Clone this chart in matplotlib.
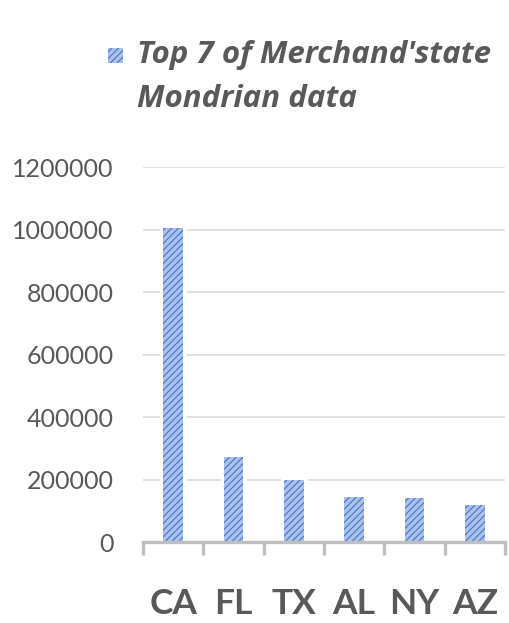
import matplotlib.pyplot as plt
import matplotlib as mpl
from matplotlib.patches import Rectangle
from matplotlib.ticker import FixedLocator

# top merchant states by Mondrian data
states = ['CA', 'FL', 'TX', 'AL', 'NY', 'AZ']
counts = [1005000, 272000, 198000, 145000, 140000, 118000]
yticks = [0, 200000, 400000, 600000, 800000, 1000000, 1200000]
series_lines = ["Top 7 of Merchand'state", "Mondrian data"]

grey_txt = '#595959'
fill = '#a9c2ec'
hatch_col = '#4a72c8'

mpl.rcParams['hatch.linewidth'] = 0.8

fig = plt.figure(figsize=(5.10, 6.23), dpi=100)
ax = fig.add_axes([0.2804, 0.130, 0.7098, 0.6019])

x = range(len(states))
# white halo so gridlines stop short of the bars
ax.bar(x, counts, width=0.33, color='white', edgecolor='white', linewidth=5, zorder=2)
bars = ax.bar(x, counts, width=0.33, color=fill, edgecolor=hatch_col, linewidth=0,
              hatch='/////', zorder=3)

ax.set_xlim(-0.5, len(states) - 0.5)
ax.set_ylim(0, 1200000)
ax.set_yticks(yticks)
ax.set_yticklabels([str(v) for v in yticks])
ax.set_xticks(list(x))
ax.set_xticklabels(states)
ax.xaxis.set_minor_locator(FixedLocator([i - 0.5 for i in range(len(states) + 1)]))

ax.grid(axis='y', color='#d9d9d9', linewidth=1.1, zorder=1)
ax.set_axisbelow(True)
for s in ['top', 'right', 'left']:
    ax.spines[s].set_visible(False)
ax.spines['bottom'].set_color('#bfbfbf')
ax.spines['bottom'].set_linewidth(2.4)
ax.spines['bottom'].set_zorder(4)

ax.tick_params(axis='y', length=0, pad=21, labelsize=18, labelcolor=grey_txt)
ax.tick_params(axis='x', which='major', length=0, pad=33, labelsize=25.5, labelcolor=grey_txt)
ax.tick_params(axis='x', which='minor', length=9.5, width=2.4, color='#bfbfbf')
for t in ax.get_yticklabels():
    t.set_fontfamily('Lato')
for t in ax.get_xticklabels():
    t.set_fontfamily('Lato')
    t.set_fontweight('bold')

# series key: hatched swatch beside a two-line label
W, H = fig.get_size_inches() * fig.dpi
fig.patches.append(Rectangle((108 / W, 1 - 63 / H), 15 / W, 15 / H, transform=fig.transFigure,
                             facecolor=fill, edgecolor=hatch_col, linewidth=0, hatch='/////'))
for i, line in enumerate(series_lines):
    fig.text(137 / W, 1 - (63 + 44 * i) / H, line, ha='left', va='baseline',
             family='Open Sans', weight='bold', style='italic', size=22.5, color=grey_txt)

fig.savefig('out.png', dpi=100)
